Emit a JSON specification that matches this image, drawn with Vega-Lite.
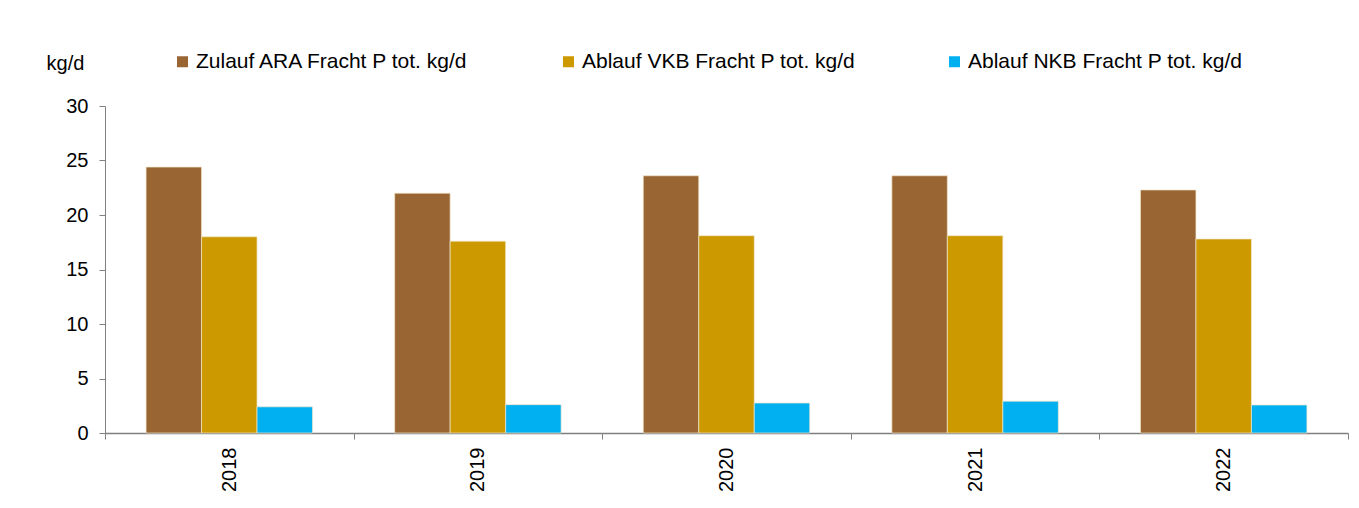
{
  "$schema": "https://vega.github.io/schema/vega-lite/v6.json",
  "width": 1243,
  "height": 327,
  "autosize": {"type": "none"},
  "padding": {"left": 105, "top": 106, "right": 11, "bottom": 75},
  "background": "white",
  "config": {
    "view": {"stroke": null},
    "font": "Liberation Sans"
  },
  "data": {
    "values": [
      {"year": "2018", "series": "Zulauf ARA Fracht P tot. kg/d", "value": 24.4},
      {"year": "2018", "series": "Ablauf VKB Fracht P tot. kg/d", "value": 18.0},
      {"year": "2018", "series": "Ablauf NKB Fracht P tot. kg/d", "value": 2.4},
      {"year": "2019", "series": "Zulauf ARA Fracht P tot. kg/d", "value": 22.0},
      {"year": "2019", "series": "Ablauf VKB Fracht P tot. kg/d", "value": 17.6},
      {"year": "2019", "series": "Ablauf NKB Fracht P tot. kg/d", "value": 2.6},
      {"year": "2020", "series": "Zulauf ARA Fracht P tot. kg/d", "value": 23.6},
      {"year": "2020", "series": "Ablauf VKB Fracht P tot. kg/d", "value": 18.1},
      {"year": "2020", "series": "Ablauf NKB Fracht P tot. kg/d", "value": 2.75},
      {"year": "2021", "series": "Zulauf ARA Fracht P tot. kg/d", "value": 23.6},
      {"year": "2021", "series": "Ablauf VKB Fracht P tot. kg/d", "value": 18.1},
      {"year": "2021", "series": "Ablauf NKB Fracht P tot. kg/d", "value": 2.92},
      {"year": "2022", "series": "Zulauf ARA Fracht P tot. kg/d", "value": 22.3},
      {"year": "2022", "series": "Ablauf VKB Fracht P tot. kg/d", "value": 17.8},
      {"year": "2022", "series": "Ablauf NKB Fracht P tot. kg/d", "value": 2.57}
    ]
  },
  "mark": {"type": "bar", "stroke": "#f2e6cc", "strokeWidth": 0.7},
  "encoding": {
    "x": {
      "field": "year",
      "type": "nominal",
      "scale": {"paddingInner": 0, "paddingOuter": 0},
      "axis": {
        "title": null,
        "tickBand": "extent",
        "labelAngle": -90,
        "labelFontSize": 20,
        "labelColor": "#000000",
        "labelPadding": 8,
        "tickSize": 6,
        "tickColor": "#808080",
        "domainColor": "#808080",
        "domainWidth": 1.5
      }
    },
    "xOffset": {
      "field": "series",
      "type": "nominal",
      "sort": ["Zulauf ARA Fracht P tot. kg/d", "Ablauf VKB Fracht P tot. kg/d", "Ablauf NKB Fracht P tot. kg/d"],
      "scale": {"paddingInner": 0, "paddingOuter": 0.74}
    },
    "y": {
      "field": "value",
      "type": "quantitative",
      "scale": {"domain": [0, 30], "nice": false},
      "axis": {
        "values": [0, 5, 10, 15, 20, 25, 30],
        "grid": false,
        "title": "kg/d",
        "titleAngle": 0,
        "titleX": -40,
        "titleY": -37,
        "titleAlign": "center",
        "titleBaseline": "alphabetic",
        "titleFontSize": 20,
        "titleFontWeight": "normal",
        "titleColor": "#000000",
        "labelFontSize": 20,
        "labelColor": "#000000",
        "labelPadding": 11,
        "tickSize": 6,
        "tickColor": "#808080",
        "domainColor": "#808080"
      }
    },
    "color": {
      "field": "series",
      "type": "nominal",
      "sort": ["Zulauf ARA Fracht P tot. kg/d", "Ablauf VKB Fracht P tot. kg/d", "Ablauf NKB Fracht P tot. kg/d"],
      "scale": {
        "domain": ["Zulauf ARA Fracht P tot. kg/d", "Ablauf VKB Fracht P tot. kg/d", "Ablauf NKB Fracht P tot. kg/d"],
        "range": ["#996633", "#CC9900", "#00B0F0"]
      },
      "legend": {
        "title": null,
        "orient": "none",
        "direction": "horizontal",
        "columns": 3,
        "legendX": 67,
        "legendY": -55,
        "padding": 0,
        "symbolType": "square",
        "symbolSize": 121,
        "symbolStrokeWidth": 0,
        "symbolOpacity": 1,
        "labelFontSize": 21,
        "labelColor": "#000000",
        "labelOffset": 3,
        "labelLimit": 400,
        "columnPadding": 88
      }
    }
  }
}
